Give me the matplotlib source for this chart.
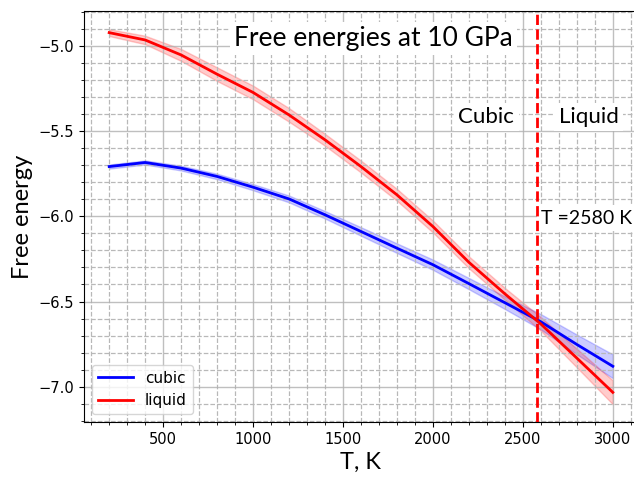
import numpy as np
import matplotlib.pyplot as plt
from matplotlib.ticker import MultipleLocator

# Temperatures (K) and free energies
T = [200, 400, 600, 800, 1000, 1200, 1400, 1600, 1800, 2000, 2200, 2400, 2600, 2800, 3000]
cubic = [-5.708, -5.684, -5.717, -5.766, -5.829, -5.898, -5.991, -6.089, -6.187, -6.284,
         -6.395, -6.507, -6.619, -6.752, -6.880]
cubic_err = [0.012, 0.012, 0.014, 0.016, 0.018, 0.02, 0.022, 0.025, 0.028, 0.03,
             0.033, 0.037, 0.045, 0.058, 0.07]
liquid = [-4.922, -4.965, -5.053, -5.166, -5.273, -5.405, -5.551, -5.708, -5.874, -6.060,
          -6.270, -6.455, -6.632, -6.832, -7.033]
liquid_err = [0.02, 0.025, 0.035, 0.04, 0.04, 0.04, 0.035, 0.035, 0.035, 0.035,
              0.035, 0.035, 0.04, 0.055, 0.07]
T_melt = 2580

T = np.array(T)
cubic = np.array(cubic)
liquid = np.array(liquid)
cubic_err = np.array(cubic_err)
liquid_err = np.array(liquid_err)

fig = plt.figure(figsize=(6.34, 4.78), dpi=100)
ax = fig.add_axes([84 / 634, 56 / 478, 554 / 634, 411 / 478])

ax.plot(T, cubic, color='blue', lw=2, label='cubic')
ax.fill_between(T, cubic - cubic_err, cubic + cubic_err, color='blue', alpha=0.2)
ax.plot(T, liquid, color='red', lw=2, label='liquid')
ax.fill_between(T, liquid - liquid_err, liquid + liquid_err, color='red', alpha=0.2)
ax.axvline(T_melt, color='red', ls='--', lw=2, zorder=5)

ax.set_xlim(60, 3140)
ax.set_ylim(-7.207, -4.795)

ax.xaxis.set_major_locator(MultipleLocator(500))
ax.xaxis.set_minor_locator(MultipleLocator(100))
ax.yaxis.set_major_locator(MultipleLocator(0.5))
ax.yaxis.set_minor_locator(MultipleLocator(0.1))
ax.grid(which='major', color='#b0b0b0', lw=1, alpha=0.8)
ax.grid(which='minor', color='#b8b8b8', ls='--', lw=0.9)
ax.tick_params(labelsize=10.5)

lab_font = 'Lato'
ax.set_xlabel('T, K', fontsize=17, family=lab_font)
ax.set_ylabel('Free energy', fontsize=17, family=lab_font)

box = dict(facecolor='white', edgecolor='none', pad=3)
ax.text(1668, -4.955, 'Free energies at 10 GPa', fontsize=19, family=lab_font,
        ha='center', va='center', bbox=box)
ax.text(2297, -5.416, 'Cubic', fontsize=16, family=lab_font, ha='center', va='center', bbox=box)
ax.text(2865, -5.416, 'Liquid', fontsize=16, family=lab_font, ha='center', va='center', bbox=box)
ax.text(2603, -6.01, 'T =2580 K', fontsize=14, family=lab_font, ha='left', va='center', bbox=box)

ax.legend(loc='lower left', fontsize=11, handlelength=2.3)

fig.savefig('out.png', dpi=100)
